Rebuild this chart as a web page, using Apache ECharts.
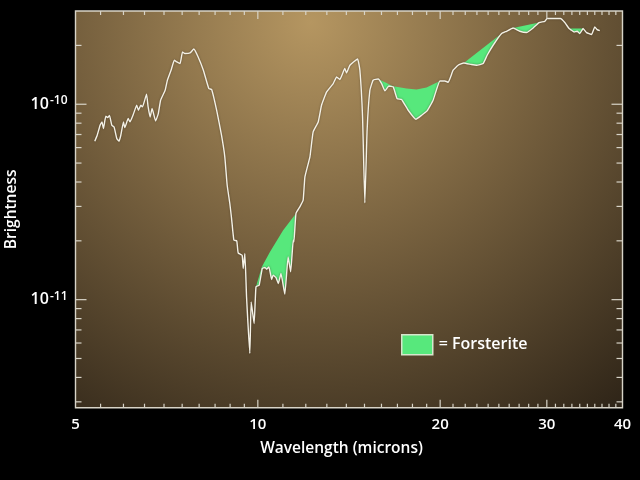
<!DOCTYPE html>
<html>
<head>
<meta charset="utf-8">
<style>html,body{margin:0;background:#000}#chart{width:640px;height:480px}</style>
<script src="https://cdn.jsdelivr.net/npm/echarts@6/dist/echarts.min.js"></script>
</head>
<body>
<div id="chart"></div>
<script>
// spectrum: wavelength in microns, brightness in units of 1e-10
var wavelength = [5.38,5.43,5.49,5.53,5.56,5.61,5.65,5.69,5.74,5.79,5.85,5.90,5.94,6.00,6.03,6.11,6.15,6.23,6.31,6.35,6.41,6.45,6.55,6.59,6.64,6.69,6.78,6.85,6.91,7.03,7.09,7.19,7.28,7.35,7.44,7.51,7.58,7.73,7.84,7.97,8.13,8.30,8.39,8.55,8.71,8.82,8.90,8.99,9.05,9.13,9.23,9.28,9.42,9.46,9.52,9.58,9.70,9.75,9.86,9.93,10.05,10.17,10.27,10.34,10.43,10.54,10.60,10.71,10.81,10.92,11.08,11.22,11.33,11.44,11.47,11.56,11.73,11.88,11.96,12.19,12.34,12.58,12.74,12.99,13.32,13.49,13.66,13.92,14.01,14.19,14.61,14.74,14.89,15.02,15.15,15.31,15.50,15.80,16.01,16.21,16.46,16.73,16.98,17.27,17.71,18.24,18.64,19.03,19.47,19.98,20.36,20.62,21.01,21.41,21.88,22.53,22.97,23.55,23.91,24.46,25.26,25.74,26.39,27.07,27.77,28.48,29.13,29.77,30.03,30.93,31.60,32.12,32.65,32.95,33.28,33.66,34.01,34.43,34.89,35.55,36.00,36.32,36.69];
var brightness = [.647,.694,.781,.812,.751,.868,.855,.875,.781,.765,.668,.647,.694,.812,.760,.845,.812,.889,.988,.932,.988,.969,1.125,.969,.861,.951,.821,.896,1.048,1.179,1.327,1.493,1.679,1.646,1.615,1.852,1.817,1.830,1.918,1.746,1.493,1.203,1.189,.932,.694,.538,.385,.3105,.260,.2015,.1999,.1735,.1689,.1444,.1723,.1034,.0531,.0974,.0755,.1163,.1186,.1444,.1461,.1432,.1471,.1269,.1334,.1299,.1210,.1361,.1067,.1656,.1387,.2015,.1975,.276,.2983,.3228,.4247,.538,.722,.812,.988,1.156,1.276,1.379,1.338,1.523,1.446,1.583,1.705,1.493,.861,.3127,.736,1.179,1.327,1.347,1.276,1.170,1.240,1.226,1.069,1.057,.932,.838,.878,.924,1.048,1.316,1.316,1.296,1.493,1.583,1.626,1.596,1.583,1.615,1.781,2.004,2.300,2.363,2.456,2.363,2.327,2.456,2.618,2.658,2.744,2.744,2.744,2.618,2.439,2.391,2.343,2.363,2.300,2.439,2.327,2.273,2.485,2.410,2.382];

// upper edge of each forsterite feature [wavelength, brightness]
var bandTops = [
  [[9.93,.1163],[10.15,.1471],[10.47,.1756],[11.01,.2267],[11.56,.276]],
  [[15.80,1.347],[16.73,1.236],[17.60,1.203],[18.28,1.189],[18.99,1.217],[19.98,1.316]],
  [[21.88,1.626],[25.26,2.300]],
  [[26.39,2.456],[29.13,2.618]],
  [[32.65,2.439],[34.43,2.439]]
];

var xLabels = [5,10,20,30,40];
var xMinor = [5.5,6,6.5,7,7.5,8,8.5,9,9.5,11,12,13,14,15,16,17,18,19,21,22,23,24,25,26,27,28,29,31,32,33,34,35,36,37,38,39];
var yLabels = [1e-11,1e-10];
var yMinor = [3e-12,4e-12,5e-12,6e-12,7e-12,8e-12,9e-12,2e-11,3e-11,4e-11,5e-11,6e-11,7e-11,8e-11,9e-11,2e-10];

var xMin = 5, xMax = 40, yMin = 2.8e-12, yMax = 3e-10;
var white = '#f4f1e6', tickColor = '#d8d4c8';

var line = wavelength.map(function (w, i) { return [w, brightness[i] * 1e-10]; });

function bandPolygon(top) {
  var from = top[0][0], to = top[top.length - 1][0];
  var lower = line.filter(function (p) { return p[0] >= from && p[0] <= to; });
  var upper = top.map(function (p) { return [p[0], p[1] * 1e-10]; }).reverse();
  return lower.concat(upper);
}
var polygons = bandTops.map(bandPolygon);

function renderBand(params, api) {
  var pts = polygons[api.value(2)].map(function (p) { return api.coord(p); });
  return { type: 'polygon', shape: { points: pts }, style: { fill: '#57e87c' } };
}

function tickLine(x1, y1, x2, y2) {
  return { type: 'line', shape: { x1: x1, y1: y1, x2: x2, y2: y2 }, style: { stroke: tickColor, lineWidth: 1.2 } };
}
// ticks on all four sides, pointing in
function renderTick(params, api) {
  var isX = api.value(2) === 0, len = api.value(3) ? (isX ? 8 : 11) : (isX ? 4 : 6);
  if (isX) {
    var b = api.coord([api.value(0), yMin]), t = api.coord([api.value(0), yMax]);
    return { type: 'group', children: [tickLine(b[0], b[1], b[0], b[1] - len), tickLine(t[0], t[1], t[0], t[1] + len)] };
  }
  var l = api.coord([xMin, api.value(1)]), r = api.coord([xMax, api.value(1)]);
  return { type: 'group', children: [tickLine(l[0], l[1], l[0] + len, l[1]), tickLine(r[0], r[1], r[0] - len, r[1])] };
}

var tickData = [];
xLabels.slice(1, 4).forEach(function (v) { tickData.push([v, yMin, 0, 1]); });
xMinor.forEach(function (v) { tickData.push([v, yMin, 0, 0]); });
yLabels.forEach(function (v) { tickData.push([xMin, v, 1, 1]); });
yMinor.forEach(function (v) { tickData.push([xMin, v, 1, 0]); });

var font = 'Open Sans';
var option = {
  backgroundColor: '#000',
  animation: false,
  grid: {
    show: true, left: 75.5, right: 17.5, top: 11, bottom: 72.3, outerBoundsMode: 'none',
    borderColor: '#d8d4c8', borderWidth: 1.4,
    backgroundColor: {
      type: 'radial', x: 0.43, y: 0.03, r: 1.3,
      colorStops: [
        { offset: 0, color: '#b59661' },
        { offset: 0.45, color: '#76603e' },
        { offset: 1, color: '#281f14' }
      ]
    }
  },
  legend: {
    left: 401, top: 334, padding: 0, itemWidth: 31, itemHeight: 20, itemGap: 0,
    icon: 'rect', selectedMode: false,
    data: ['Forsterite'],
    formatter: '= {name}',
    itemStyle: { color: '#57e87c', borderColor: '#d6e6cc', borderWidth: 1.5 },
    textStyle: { color: '#fff', fontFamily: font, fontWeight: 600, fontSize: 16, padding: [0, 0, 0, 1] }
  },
  xAxis: {
    type: 'log', logBase: 2, min: xMin, max: xMax,
    name: 'Wavelength (microns)', nameLocation: 'middle', nameGap: 33,
    nameTextStyle: { color: '#fff', fontFamily: font, fontWeight: 600, fontSize: 15.5, padding: [0, 15, 0, 0] },
    axisLine: { show: false }, axisTick: { show: false }, splitLine: { show: false }, minorTick: { show: false },
    axisLabel: {
      customValues: xLabels, color: '#fff', fontFamily: font, fontWeight: 600, fontSize: 15, margin: 10, showMinLabel: true, showMaxLabel: true
    }
  },
  yAxis: {
    type: 'log', min: yMin, max: yMax,
    name: 'Brightness', nameLocation: 'middle', nameGap: 54, nameRotate: 90,
    nameTextStyle: { color: '#fff', fontFamily: font, fontWeight: 600, fontSize: 15.5, padding: [6, 0, 0, 0] },
    axisLine: { show: false }, axisTick: { show: false }, splitLine: { show: false }, minorTick: { show: false },
    axisLabel: {
      customValues: yLabels, margin: 8,
      formatter: function (v) { return '{b|10}{e|' + Math.round(Math.log10(v)) + '}'; },
      rich: {
        b: { color: '#fff', fontFamily: font, fontWeight: 600, fontSize: 16 },
        e: { color: '#fff', fontFamily: font, fontWeight: 600, fontSize: 12, padding: [0, 0, 7, 1] }
      }
    }
  },
  series: [
    {
      name: 'Forsterite', type: 'custom', renderItem: renderBand, silent: true, z: 2, clip: false,
      itemStyle: { color: '#57e87c' },
      encode: { x: 0, y: 1 },
      data: polygons.map(function (p, i) { return [p[0][0], p[0][1], i]; })
    },
    {
      name: 'Spectrum', type: 'line', data: line, showSymbol: false, silent: true, z: 3, smooth: 0.12,
      lineStyle: { color: white, width: 1.4, shadowColor: 'rgba(40,30,15,0.5)', shadowBlur: 2 }
    },
    {
      name: 'Ticks', type: 'custom', renderItem: renderTick, silent: true, z: 4, clip: false,
      encode: { x: 0, y: 1 },
      data: tickData
    }
  ]
};

var chart = echarts.init(document.getElementById('chart'));
chart.setOption(option);
</script>
</body>
</html>
